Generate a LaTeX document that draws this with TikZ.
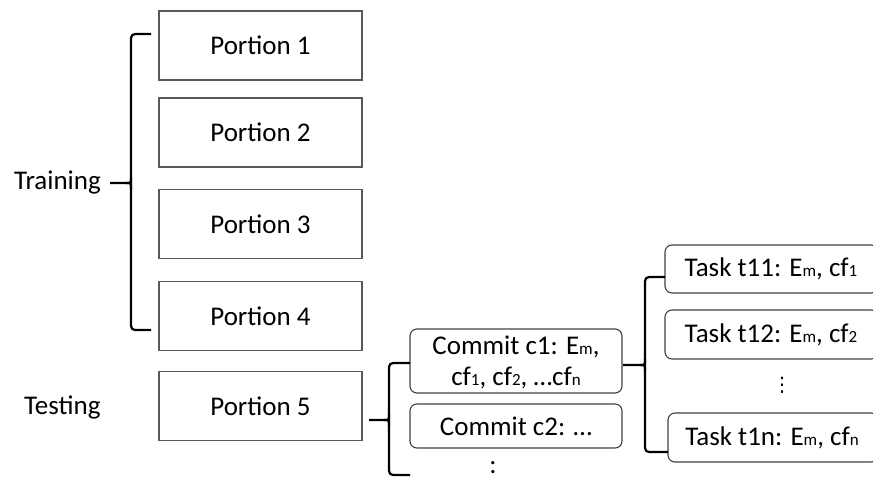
\documentclass[tikz,border=0pt]{standalone}
\usepackage{fontspec}
\setmainfont{Carlito}
\newfontfamily\dejavu{DejaVu Sans}
\newcommand{\sm}[1]{{\fontsize{17}{17}\selectfont #1}}
\begin{document}
\begin{tikzpicture}[x=1pt,y=-1pt,
  portion/.style={draw=black!65, line width=1.1pt, minimum width=203pt, minimum height=69pt, inner sep=0pt},
  rbox/.style={draw=black!75, line width=1.1pt, rounded corners=7pt, inner sep=0pt},
  brc/.style={line width=2.2pt, line cap=butt, line join=round},
  lbl/.style={inner sep=0pt}]
\useasboundingbox (0,0) rectangle (873,479);
\fontsize{27}{32}\selectfont
% portions
\node[portion] (p1) at (260.5,45.5) {Portion 1};
\node[portion] (p2) at (260.5,132.5) {Portion 2};
\node[portion] (p3) at (260.5,224) {Portion 3};
\node[portion] (p4) at (260.5,316) {Portion 4};
\node[portion] (p5) at (260.5,406) {Portion 5};
% labels
\node[lbl, anchor=east] (tr) at (101,183) {Training};
\node[lbl, anchor=west] (te) at (24,407) {Testing};
% training brace
\coordinate (tb1) at (151,34);
\coordinate (tb2) at (151,330);
\coordinate (tbt) at (110,183);
\draw[brc, rounded corners=4pt] (tb1) -- (131,34) -- (131,330) -- (tb2);
\draw[brc] (tbt) -- (126,183) .. controls (131,183) .. (131,177);
\draw[brc] (126,183) .. controls (131,183) .. (131,189);
% commits
\draw[rbox] (410,329) rectangle (622,393);
\node[lbl, align=center] (c1) at (516,362) {Commit c1: E\sm{m},\\[-1pt]cf\sm{1}, cf\sm{2}, \dots cf\sm{n}};
\draw[rbox] (410,404) rectangle (622,448);
\node[lbl] (c2) at (516,426) {Commit c2: \dots};
\node[lbl] (cd) at (493,468) {:};
% commit brace
\coordinate (cb1) at (410,363);
\coordinate (cb2) at (410,475);
\coordinate (cbt) at (369,420);
\draw[brc, rounded corners=4pt] (cb1) -- (389,363) -- (389,475) -- (cb2);
\draw[brc] (cbt) -- (384,420) .. controls (389,420) .. (389,414);
\draw[brc] (384,420) .. controls (389,420) .. (389,426);
% tasks
\draw[rbox] (665,245) rectangle (878,293);
\node[lbl] (t11) at (771,269) {Task t11: E\sm{m}, cf\sm{1}};
\draw[rbox] (665,310) rectangle (878,359);
\node[lbl] (t12) at (771,334.5) {Task t12: E\sm{m}, cf\sm{2}};
\node[lbl] (td) at (782,385) {\dejavu\fontsize{20}{20}\selectfont ⋮};
\draw[rbox] (668,413) rectangle (878,462);
\node[lbl] (t1n) at (772,437.5) {Task t1n: E\sm{m}, cf\sm{n}};
% task brace
\coordinate (kb1) at (665,277);
\coordinate (kb2) at (668,452);
\coordinate (kbt) at (623,365);
\draw[brc, rounded corners=4pt] (kb1) -- (645,277) -- (645,452) -- (kb2);
\draw[brc] (kbt) -- (640,365) .. controls (645,365) .. (645,359);
\draw[brc] (640,365) .. controls (645,365) .. (645,371);
\end{tikzpicture}
\end{document}
